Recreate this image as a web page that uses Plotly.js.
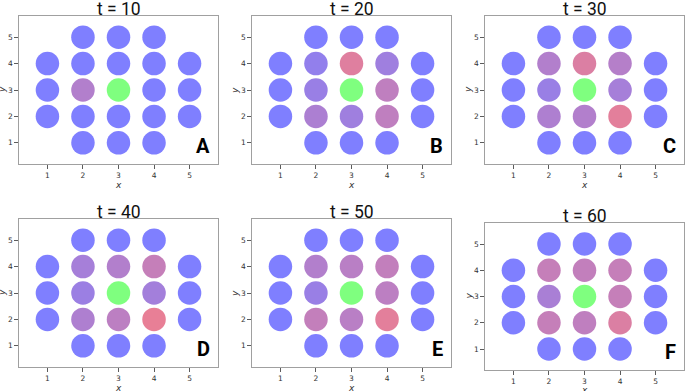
<!DOCTYPE html>
<html>
<head>
<meta charset="utf-8">
<script src="https://cdn.plot.ly/plotly-3.0.1.min.js"></script>
<style>html,body{margin:0;padding:0;background:#fff;}#chart{width:685px;height:391px;}</style>
</head>
<body>
<div id="chart"></div>
<script>
// Node positions (grid coordinates)
const nodeX = [2,3,4, 1,2,3,4,5, 1,2,3,4,5, 1,2,3,4,5, 2,3,4];
const nodeY = [5,5,5, 4,4,4,4,4, 3,3,3,3,3, 2,2,2,2,2, 1,1,1];
const sourceIndex = 10; // green node at (3,3)

const panelTitles = ["t = 10", "t = 20", "t = 30", "t = 40", "t = 50", "t = 60"];
const panelLetters = ["A", "B", "C", "D", "E", "F"];
const tickVals = [1, 2, 3, 4, 5];
const tickText = ["1", "2", "3", "4", "5"];

// Node state per panel: 0 = blue, 1 = red (source node is drawn green)
const valuesT10 = [0,0,0, 0,0,0,0,0, 0,0.40,null,0,0, 0,0,0,0,0, 0,0,0];
const valuesT20 = [0,0,0, 0,0.15,0.75,0.25,0, 0,0.20,null,0.50,0, 0,0.35,0.25,0.50,0, 0,0,0];
const valuesT30 = [0,0,0, 0,0.40,0.72,0.42,0, 0,0.20,null,0.30,0, 0,0.37,0.40,0.78,0, 0,0,0];
const valuesT40 = [0,0,0, 0,0.30,0.40,0.55,0, 0,0.22,null,0.28,0, 0,0.37,0.48,0.82,0, 0,0,0];
const valuesT50 = [0,0,0, 0,0.40,0.45,0.52,0, 0,0.20,null,0.48,0, 0,0.53,0.45,0.78,0, 0,0,0];
const valuesT60 = [0,0,0, 0,0.55,0.52,0.55,0, 0,0.33,null,0.55,0, 0,0.55,0.50,0.72,0, 0,0,0];
const panelValues = [valuesT10, valuesT20, valuesT30, valuesT40, valuesT50, valuesT60];

// Layout geometry (paper fractions)
const W = 685, H = 391;
const xDomains = [[19/W, 218/W], [252/W, 451/W], [485/W, 684/W]];
const yDomainsRow = [[1-164/H, 1-16/H], [1-367/H, 1-219/H]];
const yDomainF = [1-370/H, 1-223/H];

const traces = [];
const layout = {
  width: W, height: H,
  margin: {l: 0, r: 0, t: 0, b: 0},
  paper_bgcolor: "#ffffff",
  plot_bgcolor: "#ffffff",
  showlegend: false,
  annotations: []
};

const tickFont = {family: "DejaVu Sans", size: 7.5, color: "#333333"};

for (let p = 0; p < 6; p++) {
  const row = Math.floor(p / 3), col = p % 3;
  const ax = p === 0 ? "" : String(p + 1);
  const xa = "x" + ax, ya = "y" + ax;
  const vals = panelValues[p];
  const bx = [], by = [], bv = [], gx = [], gy = [];
  for (let i = 0; i < nodeX.length; i++) {
    if (i === sourceIndex) { gx.push(nodeX[i]); gy.push(nodeY[i]); }
    else { bx.push(nodeX[i]); by.push(nodeY[i]); bv.push(vals[i]); }
  }
  traces.push({
    type: "scatter", mode: "markers", x: bx, y: by, xaxis: xa, yaxis: ya,
    marker: {size: 23.5, color: bv, cmin: 0, cmax: 1,
      colorscale: [[0, "rgb(0,0,255)"], [1, "rgb(255,0,0)"]],
      showscale: false, opacity: 0.5, line: {width: 0}},
    hoverinfo: "skip"
  });
  traces.push({
    type: "scatter", mode: "markers", x: gx, y: gy, xaxis: xa, yaxis: ya,
    marker: {size: 23.5, color: "rgb(0,255,0)", opacity: 0.5, line: {width: 0}},
    hoverinfo: "skip"
  });
  const yd = (p === 5) ? yDomainF : yDomainsRow[row];
  const common = {
    range: [0.2, 5.8], showgrid: false, zeroline: false,
    showline: true, mirror: true, linecolor: "#a0a0a0", linewidth: 1.2,
    ticks: "outside", ticklen: 3.5, tickwidth: 0.8, tickcolor: "#333333",
    tickvals: tickVals, ticktext: tickText, tickfont: tickFont,
    fixedrange: true
  };
  layout["xaxis" + ax] = Object.assign({}, common, {domain: xDomains[col], anchor: ya});
  layout["yaxis" + ax] = Object.assign({}, common, {domain: yd, anchor: xa});

  const xdRef = xa + " domain", ydRef = ya + " domain";
  // panel title
  layout.annotations.push({
    text: panelTitles[p], xref: xdRef, yref: ydRef, x: 0.5, y: 1, yshift: 7,
    xanchor: "center", yanchor: "middle", showarrow: false,
    font: {family: "Roboto", size: 17.5, color: "#111111"}
  });
  // panel letter
  layout.annotations.push({
    text: "<b>" + panelLetters[p] + "</b>", xref: xdRef, yref: ydRef, x: 0.97, y: 0.03,
    xanchor: "right", yanchor: "bottom", showarrow: false,
    font: {family: "Roboto", size: 20, color: "#000000"}
  });
  // axis titles
  layout.annotations.push({
    text: "<i>x</i>", xref: xdRef, yref: ydRef, x: 0.5, y: 0, yshift: (p === 5 ? -14 : -15),
    xanchor: "center", yanchor: "top", showarrow: false, borderpad: 0,
    font: {family: "DejaVu Sans", size: 9, color: "#333333"}
  });
  layout.annotations.push({
    text: "<i>y</i>", xref: xdRef, yref: ydRef, x: 0, y: 0.5, xshift: -11,
    xanchor: "right", yanchor: "middle", textangle: -90, showarrow: false, borderpad: 0,
    font: {family: "DejaVu Sans", size: 9, color: "#333333"}
  });
}

Plotly.newPlot("chart", traces, layout, {displayModeBar: false, staticPlot: true});
</script>
</body>
</html>
